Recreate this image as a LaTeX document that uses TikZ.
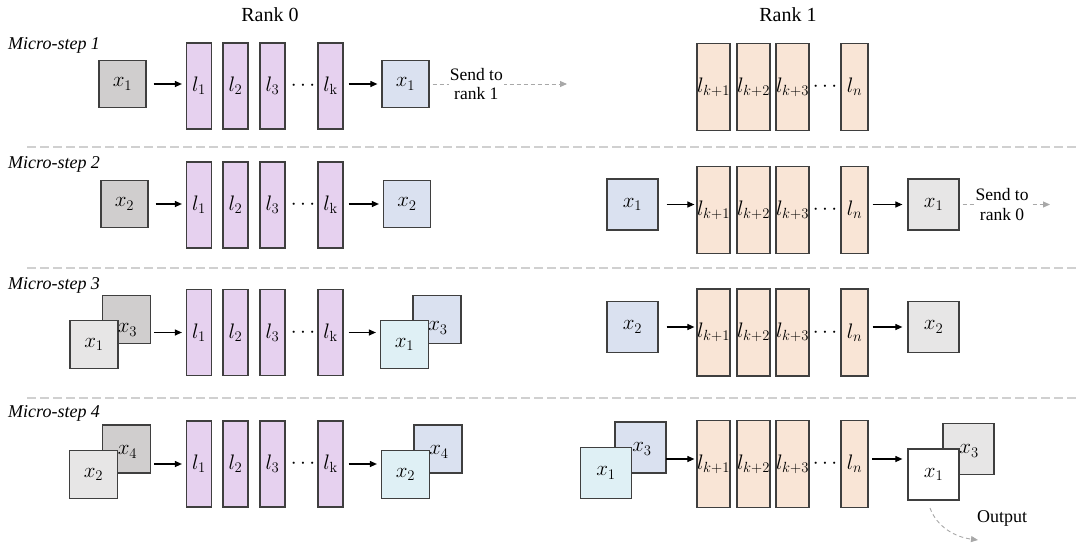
\RequirePackage{fix-cm}
\documentclass[tikz,border=0pt]{standalone}
\usepackage[no-math]{fontspec}
\setmainfont{Liberation Serif}
\usetikzlibrary{arrows.meta}
\definecolor{bordc}{HTML}{3F3F3F}
\definecolor{gdark}{HTML}{D0CECE}
\definecolor{glight}{HTML}{E7E6E6}
\definecolor{bluel}{HTML}{DAE1F0}
\definecolor{cyanl}{HTML}{DFF0F5}
\definecolor{purp}{HTML}{E6D1EF}
\definecolor{orng}{HTML}{F9E5D6}
\definecolor{sepc}{HTML}{D0D0D0}
\definecolor{sendc}{HTML}{A8A8A8}
\begin{document}
\begin{tikzpicture}[x=1pt,y=-1pt,
  mfont/.style={font=\fontsize{21}{25}\selectfont},
  sq/.style={draw=bordc, line width=1.2pt, minimum size=#1, inner sep=0pt, mfont},
  sq/.default=47pt,
  layL/.style={draw=bordc, line width=1.2pt, fill=purp, minimum width=25pt, minimum height=86pt, inner sep=0pt, mfont},
  layR/.style={draw=bordc, line width=1.2pt, fill=orng, minimum width=27pt, minimum height=87pt, inner sep=0pt, mfont},
  arr/.style={-{Triangle[length=7pt,width=6pt]}, line width=1.1pt, black},
  sendarr/.style={-{Triangle[length=7pt,width=6pt]}, sendc, line width=0.9pt, dash pattern=on 4pt off 3pt},
  sepline/.style={sepc, line width=2pt, dash pattern=on 9pt off 4pt},
  steptxt/.style={anchor=west, font=\fontsize{18}{20}\selectfont\itshape, inner sep=0pt},
  ranktxt/.style={font=\fontsize{20}{24}\selectfont, inner sep=0pt},
  sendtxt/.style={font=\fontsize{17.5}{19.5}\selectfont, align=center, fill=white, text=black, inner sep=1pt},
  outtxt/.style={font=\fontsize{18}{20}\selectfont, inner sep=0pt},
  lbl/.style={inner sep=0pt, mfont}
]
\useasboundingbox (0,0) rectangle (1080,546);

% titles
\node[ranktxt] (r0) at (270,15) {Rank 0};
\node[ranktxt] (r1) at (788,15) {Rank 1};
\node[steptxt] (m1) at (8,45) {Micro-step 1};
\node[steptxt] (m2) at (8,164) {Micro-step 2};
\node[steptxt] (m3) at (8,285) {Micro-step 3};
\node[steptxt] (m4) at (8,413) {Micro-step 4};

% separators
\foreach \k/\yy in {1/147,2/268,3/398}{
  \coordinate (sa\k) at (27,\yy);
  \coordinate (sb\k) at (1080,\yy);
  \draw[sepline] (sa\k) -- (sb\k);
}

% layers rank 0
\foreach \r/\yy in {1/86,2/205,3/332.5,4/464}{
  \node[layL] (a\r1) at (199,\yy) {$l_1$};
  \node[layL] (a\r2) at (235.5,\yy) {$l_2$};
  \node[layL] (a\r3) at (272.5,\yy) {$l_3$};
  \node[mfont, inner sep=0pt] (ad\r) at (303,\yy) {$\cdots$};
  \node[layL] (a\r4) at (330.5,\yy) {$l_{\mathrm{k}}$};
}
% layers rank 1
\foreach \r/\yy in {1/87,2/210,3/332.5,4/464}{
  \node[layR] (b\r1) at (713.5,\yy) {$l_{k+1}$};
  \node[layR] (b\r2) at (753.5,\yy) {$l_{k+2}$};
  \node[layR] (b\r3) at (792.5,\yy) {$l_{k+3}$};
  \node[mfont, inner sep=0pt] (bd\r) at (825,\yy) {$\cdots$};
  \node[layR] (b\r4) at (854.5,\yy) {$l_n$};
}

% ---- Row 1
\node[sq, fill=gdark] (i1) at (122.5,84) {$x_1$};
\node[sq, fill=bluel] (o1) at (405.5,84) {$x_1$};
\draw[arr, shorten <=7pt, shorten >=4pt] (i1.east) -- (i1.east -| a11.west);
\draw[arr, shorten <=5pt, shorten >=4pt] (a14.east |- o1.west) -- (o1.west);
\coordinate (se1) at (567,85);
\draw[sendarr, shorten <=3pt] (o1.east) -- node[sendtxt, pos=0.34] (st1) {Send to\\rank 1} (o1.east -| se1);

% ---- Row 2
\node[sq, fill=gdark] (i2) at (124.5,204) {$x_2$};
\node[sq, fill=bluel] (o2) at (407,204) {$x_2$};
\draw[arr, shorten <=7pt, shorten >=4pt] (i2.east) -- (i2.east -| a21.west);
\draw[arr, shorten <=5pt, shorten >=4pt] (a24.east |- o2.west) -- (o2.west);
\node[sq=51pt, fill=bluel] (ri2) at (632.5,204.5) {$x_1$};
\node[sq=51pt, fill=glight] (ro2) at (933.5,204.5) {$x_1$};
\draw[arr, shorten <=8pt, shorten >=2pt] (ri2.east) -- (ri2.east -| b21.west);
\draw[arr, shorten <=4pt, shorten >=5pt] (b24.east |- ro2.west) -- (ro2.west);
\coordinate (se2) at (1050,205);
\draw[sendarr, shorten <=3pt] (ro2.east) -- node[sendtxt, pos=0.47] (st2) {Send to\\rank 0} (ro2.east -| se2);

% ---- Row 3
\node[sq=48pt, fill=gdark] (i3b) at (126.5,319.5) {};
\node[sq=48pt, fill=glight] (i3f) at (94,344.5) {$x_1$};
\node[lbl] (i3t) at (127.5,330) {$x_3$};
\node[sq=48pt, fill=bluel] (o3b) at (437,319.5) {};
\node[sq=48pt, fill=cyanl] (o3f) at (404.5,344.5) {$x_1$};
\node[lbl] (o3t) at (438,328) {$x_3$};
\draw[arr, shorten <=3pt, shorten >=4pt] (i3b.east |- a31.west) -- (a31.west);
\draw[arr, shorten <=5pt, shorten >=4pt] (a34.east) -- (a34.east -| o3f.west);
\node[sq=51pt, fill=bluel] (ri3) at (632.5,327) {$x_2$};
\node[sq=51pt, fill=glight] (ro3) at (933.5,327) {$x_2$};
\draw[arr, shorten <=8pt, shorten >=2pt] (ri3.east) -- (ri3.east -| b31.west);
\draw[arr, shorten <=4pt, shorten >=5pt] (b34.east |- ro3.west) -- (ro3.west);

% ---- Row 4
\node[sq=48pt, fill=gdark] (i4b) at (126.5,449) {};
\node[sq=48pt, fill=glight] (i4f) at (93.5,474.5) {$x_2$};
\node[lbl] (i4t) at (127.5,452) {$x_4$};
\node[sq=48pt, fill=bluel] (o4b) at (438,449) {};
\node[sq=48pt, fill=cyanl] (o4f) at (405.5,474.5) {$x_2$};
\node[lbl] (o4t) at (439,452) {$x_4$};
\draw[arr, shorten <=3pt, shorten >=4pt] (i4b.east |- a41.west) -- (a41.west);
\draw[arr, shorten <=5pt, shorten >=4pt] (a44.east) -- (a44.east -| o4f.west);
\node[sq=51pt, fill=bluel] (ri4b) at (640.5,447.5) {};
\node[sq=51pt, fill=cyanl] (ri4f) at (606,473) {$x_1$};
\node[lbl] (ri4t) at (642,449) {$x_3$};
\node[sq=51pt, fill=glight] (ro4b) at (968.5,449) {};
\node[sq=51pt, fill=white] (ro4f) at (933.5,474.5) {$x_1$};
\node[lbl] (ro4t) at (969,451) {$x_3$};
\coordinate (ra4) at (666,459);
\draw[arr, shorten >=2pt] (ra4) -- (ra4 -| b41.west);
\coordinate (rb4) at (868,459);
\draw[arr, shorten <=4pt, shorten >=5pt] (rb4) -- (rb4 -| ro4f.west);
\coordinate (oc1) at (930,508);
\coordinate (oc2) at (978,540);
\draw[sendarr] (oc1) .. controls (937,527) and (955,537) .. (oc2);
\node[outtxt] (outt) at (1002,518) {Output};
\end{tikzpicture}
\end{document}
